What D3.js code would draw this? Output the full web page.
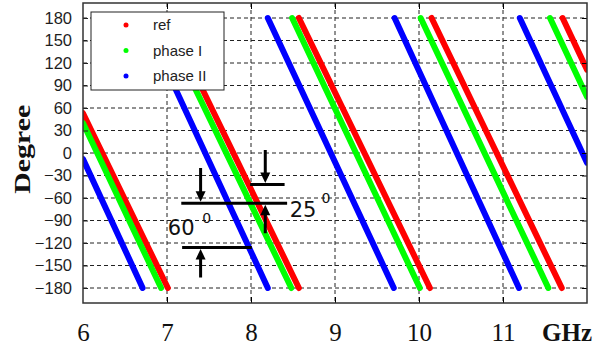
<!DOCTYPE html>
<html>
<head>
<meta charset="utf-8">
<script src="https://cdn.jsdelivr.net/npm/d3@7"></script>
<style>
  body { margin: 0; background: #fff; }
  svg { display: block; }
</style>
</head>
<body>
<div id="chart"></div>
<script>
// frequency axis (GHz) and phase axis (degree)
const freqTicks = [6, 7, 8, 9, 10, 11];
const degTicks = [-180, -150, -120, -90, -60, -30, 0, 30, 60, 90, 120, 150, 180];

// wrapped phase, null breaks the line at each wrap
const refFreq = [6.00, 7.01, null, 7.01, 8.57, null, 8.57, 10.13, null, 10.15, 11.70, null, 11.71, 12.00];
const refDeg  = [53, -180, null, 180, -180, null, 180, -180, null, 180, -180, null, 180, 111];

const phase1Freq = [6.00, 6.93, null, 6.93, 8.48, null, 8.49, 10.01, null, 10.02, 11.54, null, 11.56, 12.00];
const phase1Deg  = [40, -180, null, 180, -180, null, 180, -180, null, 180, -180, null, 180, 75];

const phase2Freq = [6.00, 6.71, null, 6.71, 8.20, null, 8.20, 9.70, null, 9.71, 11.19, null, 11.20, 12.00];
const phase2Deg  = [-8, -180, null, 180, -180, null, 180, -180, null, 180, -180, null, 180, -13];

const seriesNames = ['ref', 'phase I', 'phase II'];
const seriesColors = ['#ff0000', '#00ff00', '#0000ff'];

// annotation levels (degree)
const levelMid = -67, levelLow = -126, levelHigh = -42;

const width = 607, height = 348;
const margin = {top: 3, right: 20, bottom: 45, left: 83};

const svg = d3.select('#chart').append('svg')
    .attr('width', width)
    .attr('height', height);

const x = d3.scaleLinear().domain([6, 12]).range([margin.left, width - margin.right]);
const y = d3.scaleLinear().domain([-200, 200]).range([height - margin.bottom, margin.top]);

const x0 = x.range()[0], x1 = x.range()[1];
const y0 = y.range()[1], y1 = y.range()[0];

svg.append('defs').append('clipPath').attr('id', 'plot')
  .append('rect')
    .attr('x', x0).attr('y', y0)
    .attr('width', x1 - x0).attr('height', y1 - y0);

// dashed grid
svg.append('g')
  .selectAll('line')
  .data(degTicks)
  .enter().append('line')
    .attr('x1', x0).attr('x2', x1)
    .attr('y1', d => y(d)).attr('y2', d => y(d))
    .attr('stroke', '#222')
    .attr('stroke-width', 1)
    .attr('stroke-dasharray', '4,3');

svg.append('g')
  .selectAll('line')
  .data(freqTicks.slice(1))
  .enter().append('line')
    .attr('x1', d => x(d)).attr('x2', d => x(d))
    .attr('y1', y0).attr('y2', y1)
    .attr('stroke', '#222')
    .attr('stroke-width', 1)
    .attr('stroke-dasharray', '4,3');

// phase curves
const line = d3.line()
    .defined(d => d[0] != null)
    .x(d => x(d[0]))
    .y(d => y(d[1]));

const series = [
  d3.zip(refFreq, refDeg),
  d3.zip(phase1Freq, phase1Deg),
  d3.zip(phase2Freq, phase2Deg)
];

svg.append('g')
    .attr('clip-path', 'url(#plot)')
  .selectAll('path')
  .data(series)
  .enter().append('path')
    .attr('d', line)
    .attr('fill', 'none')
    .attr('stroke', (d, i) => seriesColors[i])
    .attr('stroke-width', 6)
    .attr('stroke-linecap', 'round');

// inside ticks, MATLAB style
svg.append('g')
    .attr('transform', 'translate(0,' + y1 + ')')
    .call(d3.axisBottom(x).tickValues(freqTicks.slice(1)).tickSize(-6).tickFormat(''))
    .call(g => g.select('.domain').remove());
svg.append('g')
    .attr('transform', 'translate(0,' + y0 + ')')
    .call(d3.axisTop(x).tickValues(freqTicks.slice(1)).tickSize(-6).tickFormat(''))
    .call(g => g.select('.domain').remove());
svg.append('g')
    .attr('transform', 'translate(' + x1 + ',0)')
    .call(d3.axisRight(y).tickValues(degTicks).tickSize(-5).tickFormat(''))
    .call(g => g.select('.domain').remove());

// y labels
svg.append('g')
    .attr('transform', 'translate(' + x0 + ',0)')
    .call(d3.axisLeft(y).tickValues(degTicks).tickSize(5).tickPadding(6))
    .call(g => g.select('.domain').remove())
    .call(g => g.selectAll('.tick line').attr('x2', 5).attr('stroke', '#222'))
    .call(g => g.selectAll('text')
        .attr('font-family', '"Liberation Sans", Arial, sans-serif')
        .attr('font-size', 16.5)
        .attr('fill', '#1e1e1e'));

// x labels
svg.append('g')
    .attr('transform', 'translate(0,' + y1 + ')')
    .call(d3.axisBottom(x).tickValues(freqTicks).tickSize(0).tickFormat(d3.format('d')))
    .call(g => g.select('.domain').remove())
    .call(g => g.selectAll('text')
        .attr('y', 38)
        .attr('dy', 0)
        .attr('font-family', '"Liberation Serif", "Times New Roman", serif')
        .attr('font-size', 25)
        .attr('fill', '#111'));

svg.append('text')
    .attr('x', 567)
    .attr('y', y1 + 38)
    .attr('text-anchor', 'middle')
    .attr('font-family', '"Liberation Serif", "Times New Roman", serif')
    .attr('font-weight', 'bold')
    .attr('font-size', 25)
    .attr('fill', '#111')
    .text('GHz');

svg.append('text')
    .attr('transform', 'translate(30,' + y(5) + ') rotate(-90)')
    .attr('text-anchor', 'middle')
    .attr('font-family', '"Liberation Serif", "Times New Roman", serif')
    .attr('font-weight', 'bold')
    .attr('font-size', 24)
    .attr('textLength', 89)
    .attr('lengthAdjust', 'spacingAndGlyphs')
    .attr('fill', '#111')
    .text('Degree');

// frame
svg.append('rect')
    .attr('x', x0).attr('y', y0)
    .attr('width', x1 - x0).attr('height', y1 - y0)
    .attr('fill', 'none')
    .attr('stroke', '#333')
    .attr('stroke-width', 1.5);

// annotation: arrows marking 60 and 25 degree shifts
const ann = svg.append('g').attr('stroke', '#000').attr('stroke-width', 3);

// [from GHz, to GHz, degree]
const hLines = [
  [7.17, 8.43, levelMid],
  [7.18, 8.01, levelLow],
  [7.99, 8.40, levelHigh]
];
ann.selectAll('line.h')
  .data(hLines)
  .enter().append('line')
    .attr('class', 'h')
    .attr('x1', d => x(d[0])).attr('x2', d => x(d[1]))
    .attr('y1', d => y(d[2])).attr('y2', d => y(d[2]));

// [GHz, from degree, to degree]
const arrows = [
  [7.40, -20, levelMid],
  [7.40, -166, levelLow],
  [8.17, 4, levelHigh],
  [8.17, -107, levelMid]
];
arrows.forEach(a => {
  const ax = x(a[0]);
  const ya = y(a[1]), yb = y(a[2]);
  const dir = yb > ya ? 1 : -1;
  ann.append('line')
      .attr('x1', ax).attr('x2', ax)
      .attr('y1', ya).attr('y2', yb - dir * 8);
  ann.append('path')
      .attr('d', 'M' + (ax - 5) + ',' + (yb - dir * 12) + 'L' + (ax + 5) + ',' + (yb - dir * 12) + 'L' + ax + ',' + (yb - dir * 1.5) + 'Z')
      .attr('fill', '#000')
      .attr('stroke', 'none');
});

const annFont = '"DejaVu Sans", Verdana, sans-serif';
svg.append('text')
    .attr('x', x(7.01)).attr('y', y(-109))
    .attr('font-family', annFont).attr('font-size', 21).attr('fill', '#111')
    .text('60');
svg.append('text')
    .attr('x', x(7.42)).attr('y', y(-93))
    .attr('font-family', annFont).attr('font-size', 14).attr('fill', '#111')
    .text('0');
svg.append('text')
    .attr('x', x(8.46)).attr('y', y(-85))
    .attr('font-family', annFont).attr('font-size', 21).attr('fill', '#111')
    .text('25');
svg.append('text')
    .attr('x', x(8.84)).attr('y', y(-66))
    .attr('font-family', annFont).attr('font-size', 14).attr('fill', '#111')
    .text('0');

// legend
const legend = svg.append('g');
legend.append('rect')
    .attr('x', 91).attr('y', 12)
    .attr('width', 133).attr('height', 78)
    .attr('fill', '#fff')
    .attr('stroke', '#222')
    .attr('stroke-width', 1);

const rows = legend.selectAll('g.row')
  .data(seriesNames)
  .enter().append('g')
    .attr('class', 'row')
    .attr('transform', (d, i) => 'translate(0,' + (25 + i * 25.5) + ')');
rows.append('circle')
    .attr('cx', 126).attr('cy', 0).attr('r', 2.5)
    .attr('fill', (d, i) => seriesColors[i]);
rows.append('text')
    .attr('x', 153).attr('y', 5)
    .attr('font-family', '"Liberation Sans", Arial, sans-serif')
    .attr('font-size', 15)
    .attr('fill', '#222')
    .text(d => d);
</script>
</body>
</html>
